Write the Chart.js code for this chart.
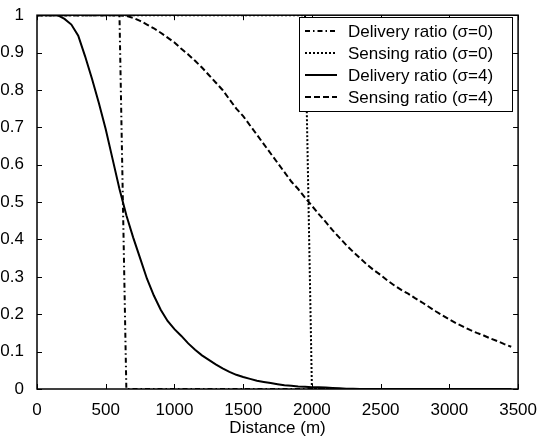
<!DOCTYPE html>
<html>
<head>
<meta charset="utf-8">
<script src="https://cdn.jsdelivr.net/npm/chart.js@4.4.1/dist/chart.umd.min.js"></script>
<style>
  html, body { margin: 0; padding: 0; background: #fff; }
  #wrap { width: 540px; height: 439px; }
</style>
</head>
<body>
<div id="wrap"><canvas id="grafica" width="540" height="439"></canvas></div>
<script>
// distancias (m)
const distancia = [0, 50, 100, 150, 200, 250, 300, 350, 400, 450, 500, 550, 600, 650, 700, 750, 800, 850, 900, 950,
  1000, 1050, 1100, 1150, 1200, 1250, 1300, 1350, 1400, 1450, 1500, 1550, 1600, 1650, 1700, 1750, 1800, 1850, 1900, 1950,
  2000, 2050, 2100, 2150, 2200, 2250, 2300, 2350, 2400, 2450, 2500, 2550, 2600, 2650, 2700, 2750, 2800, 2850, 2900, 2950,
  3000, 3050, 3100, 3150, 3200, 3250, 3300, 3350, 3400, 3450];

const deliverySigma0 = [1, 1, 1, 1, 1, 1, 1, 1, 1, 1, 1, 1, 1, 0, 0, 0, 0, 0, 0, 0,
  0, 0, 0, 0, 0, 0, 0, 0, 0, 0, 0, 0, 0, 0, 0, 0, 0, 0, 0, 0,
  0, 0, 0, 0, 0, 0, 0, 0, 0, 0, 0, 0, 0, 0, 0, 0, 0, 0, 0, 0,
  0, 0, 0, 0, 0, 0, 0, 0, 0, 0];

const sensingSigma0 = [1, 1, 1, 1, 1, 1, 1, 1, 1, 1, 1, 1, 1, 1, 1, 1, 1, 1, 1, 1,
  1, 1, 1, 1, 1, 1, 1, 1, 1, 1, 1, 1, 1, 1, 1, 1, 1, 1, 1, 1,
  0, 0, 0, 0, 0, 0, 0, 0, 0, 0, 0, 0, 0, 0, 0, 0, 0, 0, 0, 0,
  0, 0, 0, 0, 0, 0, 0, 0, 0, 0];

const deliverySigma4 = [1, 1, 1, 1, 0.99, 0.975, 0.945, 0.89, 0.83, 0.765, 0.695, 0.615, 0.535, 0.465, 0.405, 0.35, 0.295, 0.25, 0.212, 0.182,
  0.16, 0.142, 0.122, 0.105, 0.09, 0.078, 0.066, 0.055, 0.046, 0.038, 0.032, 0.027, 0.022, 0.019, 0.016, 0.013, 0.01, 0.009, 0.007, 0.006,
  0.005, 0.005, 0.004, 0.003, 0.002, 0.001, 0.001, 0, 0, 0, 0, 0, 0, 0, 0, 0, 0, 0, 0, 0,
  0, 0, 0, 0, 0, 0, 0, 0, 0, 0];

const sensingSigma4 = [1, 1, 1, 1, 1, 1, 1, 1, 1, 1, 1, 1, 1, 0.998, 0.993, 0.985, 0.975, 0.965, 0.953, 0.94,
  0.927, 0.91, 0.895, 0.878, 0.86, 0.84, 0.82, 0.8, 0.775, 0.75, 0.73, 0.705, 0.68, 0.655, 0.63, 0.605, 0.58, 0.555, 0.535, 0.512,
  0.49, 0.468, 0.447, 0.425, 0.405, 0.385, 0.367, 0.35, 0.333, 0.318, 0.305, 0.29, 0.277, 0.265, 0.255, 0.243, 0.232, 0.22, 0.208, 0.197,
  0.186, 0.176, 0.167, 0.158, 0.15, 0.143, 0.135, 0.128, 0.12, 0.113];

const etiquetas = ["Delivery ratio (σ=0)", "Sensing ratio (σ=0)", "Delivery ratio (σ=4)", "Sensing ratio (σ=4)"];
const xTicks = [0, 500, 1000, 1500, 2000, 2500, 3000, 3500];
const yTicks = [0, 0.1, 0.2, 0.3, 0.4, 0.5, 0.6, 0.7, 0.8, 0.9, 1];

const fuente = "'Liberation Sans', Arial, Helvetica, sans-serif";

function serie(valores) {
  return distancia.map((d, i) => ({ x: d, y: valores[i] }));
}

function dataset(label, valores, dash, ancho) {
  return {
    label: label,
    data: serie(valores),
    borderColor: "#000",
    backgroundColor: "#000",
    borderWidth: ancho,
    borderDash: dash,
    pointRadius: 0,
    tension: 0,
    fill: false
  };
}

// marco + ticks hacia adentro (estilo matlab)
const marco = {
  id: "marco",
  afterDatasetsDraw(chart) {
    const ctx = chart.ctx;
    const a = chart.chartArea;
    const sx = chart.scales.x, sy = chart.scales.y;
    const tl = 5;
    ctx.save();
    ctx.strokeStyle = "#000";
    ctx.lineWidth = 1;
    ctx.setLineDash([]);
    ctx.beginPath();
    xTicks.forEach(v => {
      const px = Math.round(sx.getPixelForValue(v)) + 0.5;
      ctx.moveTo(px, a.bottom); ctx.lineTo(px, a.bottom - tl);
      ctx.moveTo(px, a.top); ctx.lineTo(px, a.top + tl);
    });
    yTicks.forEach(v => {
      const py = Math.round(sy.getPixelForValue(v)) + 0.5;
      ctx.moveTo(a.left, py); ctx.lineTo(a.left + tl, py);
      ctx.moveTo(a.right, py); ctx.lineTo(a.right - tl, py);
    });
    ctx.stroke();
    ctx.lineWidth = 1.5;
    ctx.strokeRect(a.left, a.top, a.right - a.left, a.bottom - a.top);
    ctx.restore();
  }
};

// leyenda dentro del grafico
const leyenda = {
  id: "leyenda",
  afterDraw(chart) {
    const ctx = chart.ctx;
    const x0 = 299, y0 = 17, w = 213, h = 94;
    const fila = 22;
    ctx.save();
    ctx.fillStyle = "#fff";
    ctx.fillRect(x0, y0, w, h);
    ctx.strokeStyle = "#000";
    ctx.lineWidth = 1;
    ctx.setLineDash([]);
    ctx.strokeRect(x0 + 0.5, y0 + 0.5, w, h);
    ctx.font = "17px " + fuente;
    ctx.textBaseline = "middle";
    ctx.fillStyle = "#000";
    chart.data.datasets.forEach((ds, i) => {
      const y = y0 + 14 + i * fila;
      ctx.lineWidth = ds.borderWidth;
      ctx.setLineDash(ds.borderDash || []);
      ctx.beginPath();
      ctx.moveTo(x0 + 6, y);
      ctx.lineTo(x0 + 38, y);
      ctx.stroke();
      ctx.setLineDash([]);
      ctx.fillText(ds.label, x0 + 49, y + 1);
    });
    ctx.restore();
  }
};

const config = {
  type: "line",
  data: {
    datasets: [
      dataset(etiquetas[0], deliverySigma0, [5, 3, 1.5, 3], 2),
      dataset(etiquetas[1], sensingSigma0, [2, 2], 2),
      dataset(etiquetas[2], deliverySigma4, [], 2),
      dataset(etiquetas[3], sensingSigma4, [6, 3], 2)
    ]
  },
  options: {
    responsive: false,
    animation: false,
    devicePixelRatio: 1,
    layout: { padding: { top: 10, right: 21, left: 0, bottom: 0 } },
    plugins: {
      legend: { display: false },
      tooltip: { enabled: false }
    },
    scales: {
      x: {
        type: "linear",
        min: 0,
        max: 3500,
        afterBuildTicks: s => { s.ticks = xTicks.map(v => ({ value: v })); },
        afterFit: s => { s.height = 50; },
        grid: { display: false },
        border: { display: false },
        ticks: {
          color: "#000", padding: 3, maxRotation: 0,
          font: { family: fuente, size: 17 },
          callback: v => String(v)
        },
        title: {
          display: true,
          text: "Distance (m)",
          color: "#000",
          font: { family: fuente, size: 17 },
          padding: { top: 0, bottom: 0 }
        }
      },
      y: {
        type: "linear",
        min: 0,
        max: 1,
        afterBuildTicks: s => { s.ticks = yTicks.map(v => ({ value: v })); },
        afterFit: s => { s.width = 37; },
        grid: { display: false },
        border: { display: false },
        ticks: {
          color: "#000", padding: 5,
          font: { family: fuente, size: 17 },
          callback: v => String(v)
        }
      }
    }
  },
  plugins: [marco, leyenda]
};

new Chart(document.getElementById("grafica"), config);
</script>
</body>
</html>
